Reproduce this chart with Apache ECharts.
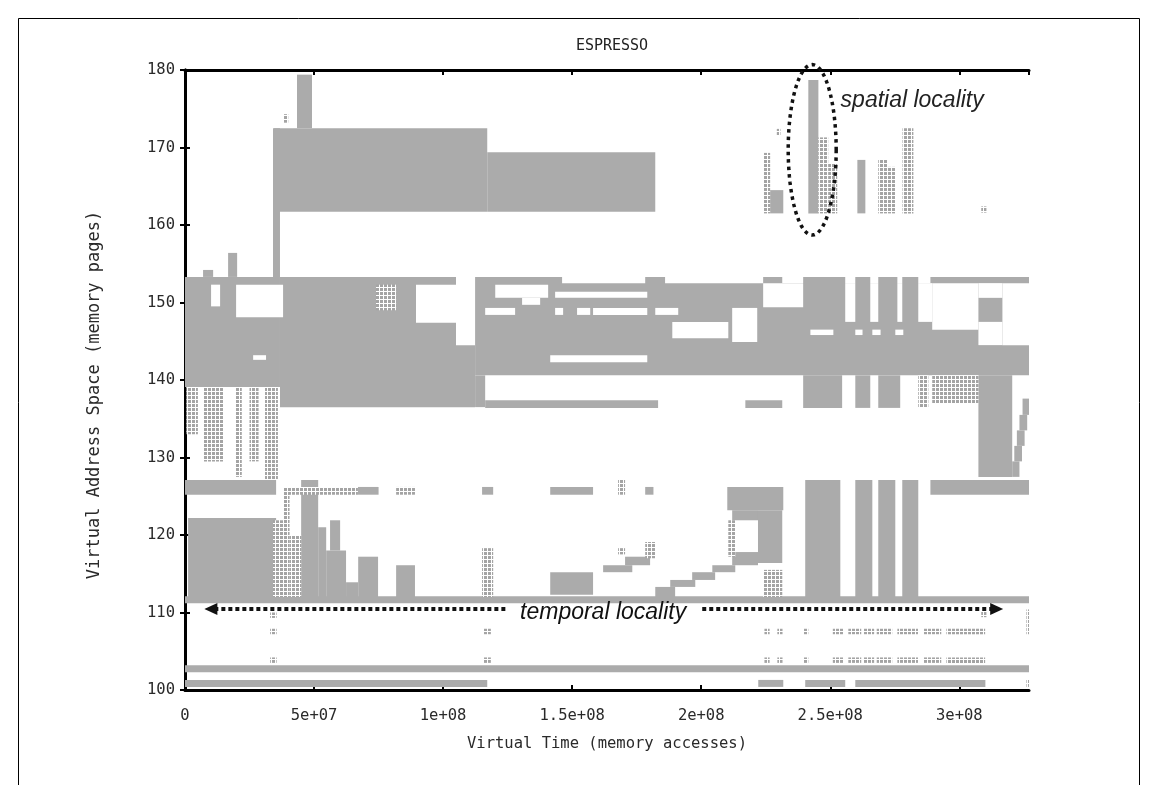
<!DOCTYPE html>
<html>
<head>
<meta charset="utf-8">
<script src="https://cdn.jsdelivr.net/npm/echarts@6/dist/echarts.min.js"></script>
<style>
html,body{margin:0;padding:0;background:#fff;}
#main{width:1158px;height:785px;}
</style>
</head>
<body>
<div id="main"></div>
<script>
// Time axis in millions of memory accesses, address axis in memory pages.
const xTickLabels = ['0', '5e+07', '1e+08', '1.5e+08', '2e+08', '2.5e+08', '3e+08'];
const yTickLabels = ['100', '110', '120', '130', '140', '150', '160', '170', '180'];

// [tStart, tEnd, pageLow, pageHigh] — densely referenced regions
const solidBlocks = [
  [34.5, 117.1, 161.7, 172.5],
  [117.1, 182.2, 161.7, 169.4],
  [34.1, 36.8, 153.3, 172.5],
  [43.4, 49.2, 172.5, 179.4],
  [16.7, 20.2, 153.3, 156.4],
  [7.0, 10.9, 153.3, 154.2],
  [226.7, 231.8, 161.5, 164.5],
  [241.5, 245.4, 161.5, 178.7],
  [260.5, 263.6, 161.5, 168.4],
  [0, 36.8, 139.1, 153.3],
  [36.8, 105.0, 136.5, 153.3],
  [105.0, 112.4, 136.5, 144.5],
  [112.4, 327, 140.6, 153.3],
  [112.4, 116.3, 136.5, 140.6],
  [116.3, 183.3, 136.4, 137.4],
  [217.1, 231.4, 136.4, 137.4],
  [239.5, 254.6, 136.4, 140.6],
  [259.7, 265.5, 136.4, 140.6],
  [268.6, 277.1, 136.4, 140.6],
  [307.4, 320.5, 127.5, 140.6],
  [324.5, 327, 135.5, 137.6],
  [323.3, 326.3, 133.5, 135.5],
  [322.3, 325.3, 131.5, 133.5],
  [321.3, 324.3, 129.5, 131.5],
  [320.5, 323.3, 127.5, 129.5],
  [0, 35.3, 125.2, 127.1],
  [67.0, 75.0, 125.2, 126.2],
  [115.1, 119.4, 125.2, 126.2],
  [141.5, 158.1, 125.2, 126.2],
  [178.3, 181.5, 125.2, 126.2],
  [288.8, 327, 125.2, 127.1],
  [240.3, 253.9, 112.0, 127.1],
  [259.7, 266.3, 112.0, 127.1],
  [268.6, 275.2, 112.0, 127.1],
  [277.9, 284.1, 112.0, 127.1],
  [210.1, 231.8, 123.2, 126.2],
  [212.0, 222.0, 121.9, 123.2],
  [222.0, 231.4, 116.4, 123.2],
  [212.0, 222.0, 116.1, 117.8],
  [182.2, 189.9, 112.0, 113.3],
  [188.0, 197.7, 113.3, 114.2],
  [196.5, 205.4, 114.2, 115.2],
  [204.3, 213.2, 115.2, 116.1],
  [141.5, 158.1, 112.3, 115.2],
  [162.0, 173.3, 115.2, 116.1],
  [170.5, 180.2, 116.1, 117.2],
  [1.2, 35.3, 111.4, 122.2],
  [45.0, 51.6, 112.0, 127.1],
  [51.6, 54.7, 112.0, 121.0],
  [54.7, 62.4, 112.0, 118.0],
  [56.2, 60.1, 118.0, 121.9],
  [62.4, 67.1, 112.0, 113.9],
  [67.1, 74.8, 112.0, 117.2],
  [81.8, 89.1, 112.0, 116.1],
  [0, 327, 111.2, 112.1],
  [0, 327, 102.3, 103.2],
  [0, 117.1, 100.4, 101.3],
  [222.1, 231.8, 100.4, 101.3],
  [240.3, 255.8, 100.4, 101.3],
  [259.7, 310.1, 100.4, 101.3]
];

// [tStart, tEnd, pageLow, pageHigh] — unreferenced gaps inside the dense regions
const gapBlocks = [
  [19.8, 38.0, 148.1, 152.3],
  [10.1, 13.6, 149.5, 152.3],
  [26.4, 31.4, 142.6, 143.2],
  [89.5, 105.0, 147.4, 152.3],
  [120.2, 140.7, 150.6, 152.3],
  [143.4, 179.1, 150.6, 151.4],
  [130.6, 137.6, 149.7, 150.6],
  [116.3, 127.9, 148.4, 149.3],
  [143.4, 146.5, 148.4, 149.3],
  [151.9, 157.0, 148.4, 149.3],
  [158.1, 179.1, 148.4, 149.3],
  [182.2, 191.1, 148.4, 149.3],
  [188.8, 210.5, 145.4, 147.5],
  [212.0, 221.7, 144.9, 149.3],
  [141.5, 179.1, 142.3, 143.2],
  [146.1, 178.3, 152.5, 153.3],
  [186.0, 224.0, 152.5, 153.3],
  [231.4, 239.5, 152.5, 153.3],
  [255.8, 259.7, 152.5, 153.3],
  [265.5, 268.6, 152.5, 153.3],
  [276.0, 277.9, 152.5, 153.3],
  [284.1, 288.8, 152.5, 153.3],
  [224.0, 239.5, 149.4, 152.5],
  [255.8, 259.7, 147.5, 152.5],
  [265.5, 268.6, 147.5, 152.5],
  [276.0, 277.9, 147.5, 152.5],
  [284.1, 289.5, 147.5, 152.5],
  [289.5, 307.4, 146.5, 152.5],
  [307.4, 316.7, 150.6, 152.5],
  [307.4, 316.7, 144.5, 147.5],
  [316.7, 327, 144.5, 152.5],
  [242.3, 251.2, 145.8, 146.5],
  [259.7, 262.5, 145.8, 146.5],
  [266.3, 269.5, 145.8, 146.5],
  [275.2, 278.3, 145.8, 146.5]
];

// [tStart, tEnd, pageLow, pageHigh] — sparsely referenced (dotted) regions
const dottedBlocks = [
  [38.0, 40.0, 173.2, 174.3],
  [224.0, 226.7, 161.5, 169.3],
  [229.3, 230.7, 171.6, 172.4],
  [245.4, 249.2, 161.5, 171.3],
  [249.2, 252.7, 161.5, 168.0],
  [268.6, 272.1, 161.5, 168.4],
  [272.1, 275.2, 161.5, 167.5],
  [278.0, 282.2, 161.5, 172.5],
  [308.5, 310.5, 161.6, 162.4],
  [74.0, 81.8, 149.0, 152.3],
  [284.1, 288.0, 136.4, 140.6],
  [289.5, 307.4, 137.0, 140.6],
  [0.5, 5.0, 133.0, 139.1],
  [7.0, 15.0, 129.5, 139.1],
  [19.5, 22.0, 127.5, 139.1],
  [25.0, 28.5, 129.5, 139.1],
  [31.0, 36.0, 127.1, 139.1],
  [38.0, 67.0, 125.2, 126.2],
  [81.8, 89.1, 125.2, 126.2],
  [167.8, 170.5, 125.2, 127.1],
  [34.1, 38.0, 112.0, 121.9],
  [38.0, 40.5, 112.0, 125.4],
  [40.5, 45.0, 112.0, 120.0],
  [115.1, 119.4, 112.0, 118.3],
  [167.8, 170.5, 117.5, 118.3],
  [178.3, 182.2, 117.0, 119.1],
  [210.5, 213.2, 117.2, 121.9],
  [224.0, 231.4, 112.0, 115.5],
  [33.0, 35.5, 103.5, 104.2],
  [33.0, 35.5, 107.2, 107.9],
  [33.0, 35.5, 109.3, 110.0],
  [115.5, 118.5, 103.5, 104.2],
  [115.5, 118.5, 107.2, 107.9],
  [308.5, 310.5, 109.4, 110.1],
  [326.0, 327, 107.2, 110.4],
  [326.0, 327, 100.4, 101.3]
];

// recurring isolated references: time segments x page rows
const sparseSegments = [
  [224.5, 226.5], [229.5, 231.5], [239.5, 241.5], [251.0, 255.0], [257.0, 262.0],
  [263.0, 267.0], [268.0, 274.0], [276.0, 284.0], [286.0, 293.0], [295.0, 310.0]
];
const sparseRowPages = [103.85, 107.55];

// annotations (data units)
const temporalNote = { text: 'temporal locality', page: 110.5, tFrom: 7.5, tTo: 317, gapFrom: 124.8, gapTo: 200.4, textT: 162 };
const spatialNote = { text: 'spatial locality', centerT: 243, centerP: 169.7, radiusT: 9.3, radiusP: 11, textT: 254, textP: 176.1 };

const sparseBlocks = sparseSegments.flatMap(s => sparseRowPages.map(p => [s[0], s[1], p - 0.35, p + 0.35]));

// dotted texture used for sparsely referenced pages
const dotCanvas = document.createElement('canvas');
dotCanvas.width = 4; dotCanvas.height = 4;
const dctx = dotCanvas.getContext('2d');
dctx.fillStyle = '#ffffff'; dctx.fillRect(0, 0, 4, 4);
dctx.fillStyle = '#a4a4a4'; dctx.fillRect(0, 0, 3, 3);
const dotPattern = { image: dotCanvas, repeat: 'repeat' };

function rectRenderer(fill) {
  return function (params, api) {
    const a = api.coord([api.value(0), api.value(3)]);
    const b = api.coord([api.value(1), api.value(2)]);
    return {
      type: 'rect',
      shape: { x: a[0], y: a[1], width: b[0] - a[0], height: b[1] - a[1] },
      style: { fill: fill }
    };
  };
}

const monoFont = 'DejaVu Sans Mono';
const chart = echarts.init(document.getElementById('main'), null, { renderer: 'canvas' });

function xLabel(v) {
  const i = Math.round(v / 50);
  return Math.abs(v - i * 50) < 1e-6 ? (xTickLabels[i] || '') : '';
}
function yLabel(v) {
  const i = Math.round((v - 100) / 10);
  return Math.abs(v - 100 - i * 10) < 1e-6 ? (yTickLabels[i] || '') : '';
}

const axisLineStyle = { color: '#000', width: 3 };
const tickStyle = { color: '#000', width: 2 };

const option = {
  animation: false,
  backgroundColor: '#fff',
  title: {
    text: 'ESPRESSO', left: 607, top: 34, textAlign: 'center',
    textStyle: { fontFamily: monoFont, fontSize: 15, fontWeight: 'normal', color: '#222' }
  },
  grid: { left: 185, right: 129, top: 70, bottom: 95 },
  xAxis: [{
    type: 'value', min: 0, max: 327, interval: 50, position: 'bottom',
    axisLine: { show: true, lineStyle: axisLineStyle },
    axisTick: { show: true, inside: true, length: 5, lineStyle: tickStyle },
    axisLabel: { formatter: xLabel, fontFamily: monoFont, fontSize: 15.5, color: '#2a2a2a', margin: 18, showMaxLabel: false },
    splitLine: { show: false },
    name: 'Virtual Time (memory accesses)', nameLocation: 'middle', nameGap: 46,
    nameTextStyle: { fontFamily: monoFont, fontSize: 15.5, color: '#2a2a2a' }
  }, {
    type: 'value', min: 0, max: 327, interval: 50, position: 'top',
    axisLine: { show: true, lineStyle: axisLineStyle },
    axisTick: { show: true, inside: true, length: 5, lineStyle: tickStyle },
    axisLabel: { show: false }, splitLine: { show: false }
  }],
  yAxis: [{
    type: 'value', min: 100, max: 180, interval: 10, position: 'left',
    axisLine: { show: true, lineStyle: axisLineStyle },
    axisTick: { show: true, inside: true, length: 5, lineStyle: tickStyle },
    axisLabel: { formatter: yLabel, fontFamily: monoFont, fontSize: 15.5, color: '#2a2a2a', margin: 10 },
    splitLine: { show: false },
    name: 'Virtual Address Space (memory pages)', nameLocation: 'middle', nameGap: 82, nameRotate: 90,
    nameTextStyle: { fontFamily: monoFont, fontSize: 17, color: '#2a2a2a', padding: [0, 30, 0, 0] }
  }, {
    type: 'value', min: 100, max: 180, interval: 10, position: 'right',
    axisLine: { show: true, lineStyle: axisLineStyle },
    axisTick: { show: true, inside: true, length: 5, lineStyle: tickStyle },
    axisLabel: { show: false }, splitLine: { show: false }
  }],
  series: [
    { type: 'custom', name: 'dense', renderItem: rectRenderer('#ababab'), data: solidBlocks, encode: { x: [0, 1], y: [2, 3] }, clip: true, silent: true, z: 1 },
    { type: 'custom', name: 'gaps', renderItem: rectRenderer('#ffffff'), data: gapBlocks, encode: { x: [0, 1], y: [2, 3] }, clip: true, silent: true, z: 2 },
    { type: 'custom', name: 'sparse', renderItem: rectRenderer(dotPattern), data: dottedBlocks, encode: { x: [0, 1], y: [2, 3] }, clip: true, silent: true, z: 3 },
    { type: 'custom', name: 'isolated', renderItem: rectRenderer(dotPattern), data: sparseBlocks, encode: { x: [0, 1], y: [2, 3] }, clip: true, silent: true, z: 3 }
  ]
};
chart.setOption(option);

// annotations positioned through the chart's own coordinate system
const px = (t, p) => chart.convertToPixel({ gridIndex: 0 }, [t, p]);
const a0 = px(temporalNote.tFrom, temporalNote.page);
const a1 = px(temporalNote.tTo, temporalNote.page);
const g0 = px(temporalNote.gapFrom, temporalNote.page);
const g1 = px(temporalNote.gapTo, temporalNote.page);
const tt = px(temporalNote.textT, temporalNote.page);
const ec = px(spatialNote.centerT, spatialNote.centerP);
const er = px(spatialNote.centerT + spatialNote.radiusT, spatialNote.centerP + spatialNote.radiusP);
const rx = er[0] - ec[0], ry = ec[1] - er[1];
const ellipsePts = [];
for (let k = 0; k <= 80; k++) {
  const ang = k / 80 * Math.PI * 2;
  ellipsePts.push([ec[0] + rx * Math.cos(ang), ec[1] + ry * Math.sin(ang)]);
}
const st = px(spatialNote.textT, spatialNote.textP);
const dotLine = { stroke: '#111', lineWidth: 4, lineDash: [4, 3] };
const y0 = Math.round(a0[1]);

chart.setOption({
  graphic: [
    { type: 'rect', shape: { x: 18.5, y: 18.5, width: 1121, height: 820 }, style: { fill: null, stroke: '#000', lineWidth: 1 }, silent: true, z: 0 },
    { type: 'line', shape: { x1: a0[0] + 10, y1: y0, x2: g0[0], y2: y0 }, style: dotLine, z: 100 },
    { type: 'line', shape: { x1: g1[0], y1: y0, x2: a1[0] - 10, y2: y0 }, style: dotLine, z: 100 },
    { type: 'polygon', shape: { points: [[a0[0], y0], [a0[0] + 13, y0 - 6], [a0[0] + 13, y0 + 6]] }, style: { fill: '#111' }, z: 100 },
    { type: 'polygon', shape: { points: [[a1[0], y0], [a1[0] - 13, y0 - 6], [a1[0] - 13, y0 + 6]] }, style: { fill: '#111' }, z: 100 },
    { type: 'text', x: tt[0], y: tt[1] + 4, style: { text: temporalNote.text, fill: '#111', font: 'italic 23px "Liberation Sans"', textAlign: 'center', textVerticalAlign: 'middle' }, z: 100 },
    { type: 'polyline', shape: { points: ellipsePts }, style: { stroke: '#111', lineWidth: 3.5, lineDash: [3.5, 4], fill: null }, z: 100 },
    { type: 'text', x: st[0], y: st[1], style: { text: spatialNote.text, fill: '#222', font: 'italic 23px "Liberation Sans"', textAlign: 'left', textVerticalAlign: 'middle' }, z: 100 }
  ]
});
</script>
</body>
</html>
